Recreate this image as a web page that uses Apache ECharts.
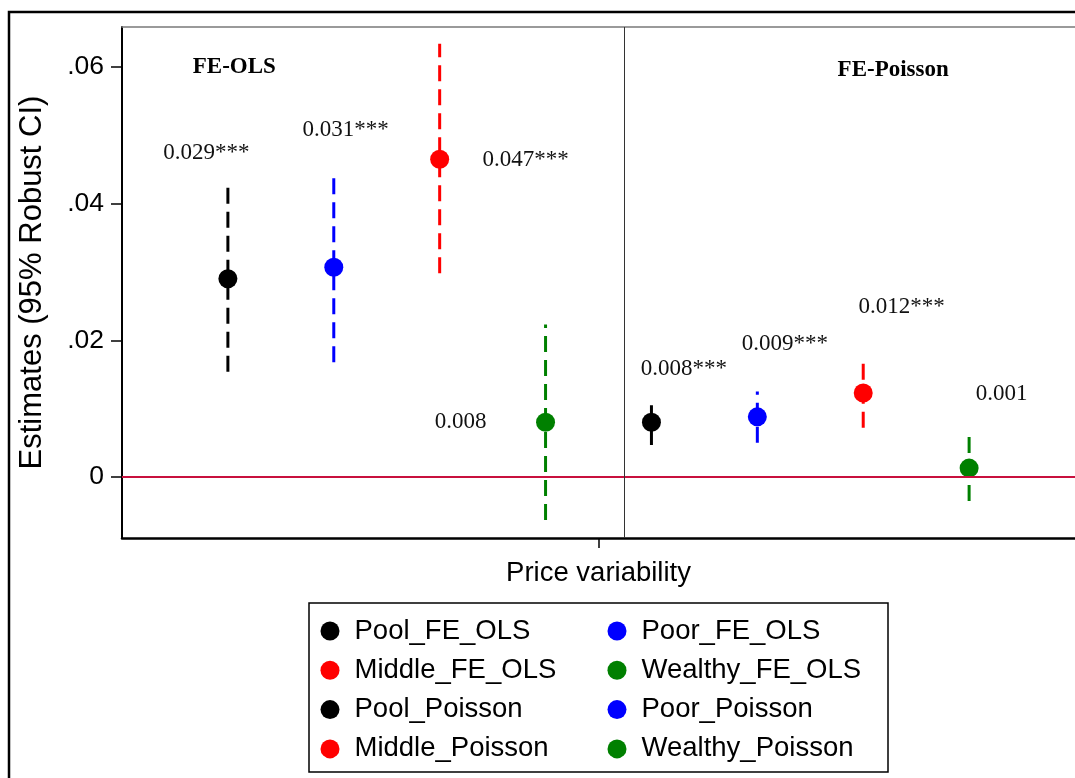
<!DOCTYPE html>
<html>
<head>
<meta charset="utf-8">
<script src="https://cdn.jsdelivr.net/npm/echarts@6/dist/echarts.min.js"></script>
<style>
html,body{margin:0;padding:0;background:#fff;}
#chart{width:1075px;height:778px;}
</style>
</head>
<body>
<div id="chart"></div>
<script>
// ---- data ----
const seriesNames = ['Pool_FE_OLS','Poor_FE_OLS','Middle_FE_OLS','Wealthy_FE_OLS','Pool_Poisson','Poor_Poisson','Middle_Poisson','Wealthy_Poisson'];
const slots = [1,2,3,4,5,6,7,8];
const estimates = [0.0290, 0.0307, 0.0465, 0.0080, 0.0080, 0.0088, 0.0123, 0.0013];
const ciLow  = [0.0154, 0.0168, 0.0298, -0.0063, 0.0047, 0.0050, 0.0072, -0.0035];
const ciHigh = [0.0426, 0.0442, 0.0634, 0.0223, 0.0105, 0.0125, 0.0167, 0.0060];
const estLabels = ['0.029***','0.031***','0.047***','0.008','0.008***','0.009***','0.012***','0.001'];
const estLabelSlot  = [0.797, 2.113, 3.811, 3.198, 5.307, 6.259, 7.363, 8.307];
const estLabelValue = [0.0474, 0.0508, 0.0464, 0.0081, 0.0158, 0.0195, 0.0249, 0.0121];
const panelTitles = ['FE-OLS','FE-Poisson'];
const panelTitleSlot = [1.061, 7.283];
const panelTitleValue = [0.0600, 0.0596];
const panelDivider = 4.736;
const yTickValues = [0, 0.02, 0.04, 0.06];
const yTickLabels = ['0', '.02', '.04', '.06'];
const xTickValues = [4.5];
const xTickLabels = ['Price variability'];
const yMin = -0.008927, yMax = 0.06585;
const xMin = 0, xMax = 9;

// ---- styles ----
const colors = ['#000000','#0000ff','#ff0000','#008000','#000000','#0000ff','#ff0000','#008000'];
const SANS = "'Liberation Sans', Arial, sans-serif";
const SERIF = "'Liberation Serif', 'Times New Roman', serif";

const chart = echarts.init(document.getElementById('chart'), null, {renderer:'canvas'});

const series = [];
// zero line + panel divider
series.push({
  type:'line', data:[], xAxisIndex:0, yAxisIndex:0, z:1, silent:true,
  markLine:{
    silent:true, symbol:'none', animation:false, label:{show:false},
    data:[
      {yAxis:0, lineStyle:{color:'#c8103e', width:2, type:'solid'}},
      {xAxis:panelDivider, lineStyle:{color:'#333333', width:1, type:'solid'}}
    ]
  }
});
// CI lines (drawn from low to high)
seriesNames.forEach((n,i)=>{
  series.push({
    name:n+' CI', type:'line', z:2, silent:true, showSymbol:false, symbol:'none',
    data:[[slots[i], ciLow[i]],[slots[i], ciHigh[i]]],
    lineStyle:{color:colors[i], width:3, type:[16,8], cap:'butt'}
  });
});
// points
seriesNames.forEach((n,i)=>{
  series.push({
    name:n, type:'scatter', z:3, symbol:'circle', symbolSize:19,
    data:[[slots[i], estimates[i]]],
    itemStyle:{color:colors[i], opacity:1}
  });
});
// estimate labels
series.push({
  type:'scatter', z:4, symbolSize:0, silent:true,
  itemStyle:{opacity:1},
  data: estLabels.map((t,i)=>({value:[estLabelSlot[i], estLabelValue[i]], txt:t})),
  label:{show:true, position:'inside', formatter:p=>p.data.txt,
    fontFamily:SERIF, fontSize:23, color:'#111'}
});
// panel titles
series.push({
  type:'scatter', z:4, symbolSize:0, silent:true,
  itemStyle:{opacity:1},
  data: panelTitles.map((t,i)=>({value:[panelTitleSlot[i], panelTitleValue[i]], txt:t})),
  label:{show:true, position:'inside', formatter:p=>p.data.txt,
    fontFamily:SERIF, fontSize:23, fontWeight:'bold', color:'#000'}
});

const col1 = seriesNames.filter((_,i)=>i%2===0);
const col2 = seriesNames.filter((_,i)=>i%2===1);
const legendCommon = {
  orient:'vertical', top:617, itemWidth:19, itemHeight:19, itemGap:11.3,
  icon:'circle', selectedMode:false,
  textStyle:{fontFamily:SANS, fontSize:27.5, color:'#000', lineHeight:28, padding:[0,0,0,10]},
  padding:0
};

chart.setOption({
  animation:false,
  backgroundColor:'#ffffff',
  grid:{left:122, top:27, width:954, height:511, containLabel:false},
  xAxis:[{
    type:'value', min:xMin, max:xMax, position:'bottom',
    splitLine:{show:false},
    axisLine:{show:true, onZero:false, lineStyle:{color:'#000', width:2.5}},
    axisTick:{show:true, customValues:xTickValues, length:10, lineStyle:{color:'#000', width:1.5}},
    axisLabel:{show:true, customValues:xTickValues, formatter:v=>xTickLabels[xTickValues.indexOf(v)] || '',
      fontFamily:SANS, fontSize:27.5, color:'#000', margin:21}
  },{
    type:'value', min:xMin, max:xMax, position:'top',
    splitLine:{show:false},
    axisLine:{show:true, onZero:false, lineStyle:{color:'#7a7a7a', width:1.5}},
    axisTick:{show:false}, axisLabel:{show:false}
  }],
  yAxis:{
    type:'value', min:yMin, max:yMax,
    splitLine:{show:false},
    axisLine:{show:true, onZero:false, lineStyle:{color:'#000', width:2}},
    axisTick:{show:true, customValues:yTickValues, length:11, lineStyle:{color:'#000', width:1.5}},
    axisLabel:{show:true, customValues:yTickValues, formatter:v=>{
        const k = yTickValues.findIndex(t=>Math.abs(t-v)<1e-9); return k>=0?yTickLabels[k]:''; },
      fontFamily:SANS, fontSize:26.5, color:'#000', margin:18, padding:[10,0,0,0]},
    name:'Estimates (95% Robust CI)', nameLocation:'middle', nameGap:74, nameRotate:90,
    nameTextStyle:{fontFamily:SANS, fontSize:31, color:'#000'}
  },
  legend:[
    Object.assign({}, legendCommon, {left:320.5, data:col1}),
    Object.assign({}, legendCommon, {left:607.5, data:col2})
  ],
  graphic:[
    {type:'rect', z:-1, shape:{x:9, y:12, width:1200, height:900}, style:{fill:'none', stroke:'#000', lineWidth:2.5}},
    {type:'rect', z:-1, shape:{x:309, y:603, width:579, height:169}, style:{fill:'none', stroke:'#000', lineWidth:1.5}}
  ],
  series:series
});
</script>
</body>
</html>
